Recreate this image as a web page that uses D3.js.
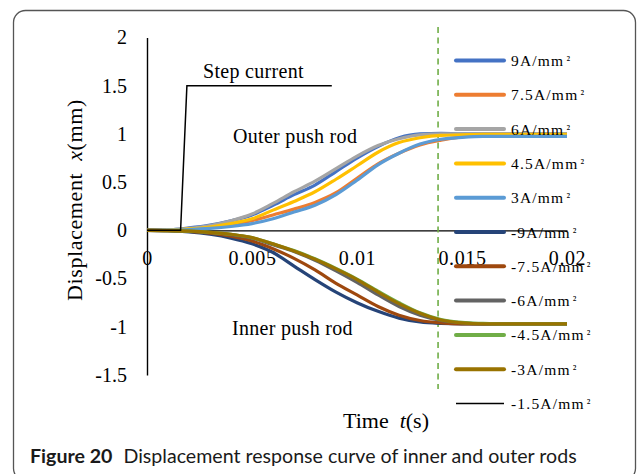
<!DOCTYPE html>
<html>
<head>
<meta charset="utf-8">
<script src="https://cdn.jsdelivr.net/npm/d3@7"></script>
<style>
  html, body { margin: 0; padding: 0; background: #fff; }
  svg { display: block; }
</style>
</head>
<body>
<svg id="chart" width="637" height="474"></svg>
<script>
// Sampling instants (s)
const time = [0, 0.001, 0.002, 0.003, 0.004, 0.005, 0.006, 0.007, 0.008, 0.009, 0.010,
              0.011, 0.012, 0.013, 0.014, 0.015, 0.016, 0.017, 0.018, 0.019, 0.020];

// Outer push rod displacement (mm)
const outer9  = [0, 0.004, 0.025, 0.055, 0.10, 0.16, 0.26, 0.37, 0.47, 0.61, 0.75, 0.87, 0.96, 1.0, 1.005, 1.0, 1.0, 1.0, 1.0, 1.0, 1.0];
const outer75 = [0, 0.002, 0.01, 0.03, 0.06, 0.10, 0.16, 0.22, 0.29, 0.39, 0.54, 0.69, 0.80, 0.885, 0.935, 0.97, 0.985, 0.99, 0.99, 0.99, 0.99];
const outer6  = [0, 0.003, 0.02, 0.05, 0.10, 0.17, 0.28, 0.40, 0.51, 0.64, 0.77, 0.88, 0.95, 0.99, 1.0, 1.0, 1.0, 1.0, 1.0, 1.0, 1.0];
const outer45 = [0, 0.003, 0.015, 0.035, 0.07, 0.12, 0.21, 0.30, 0.40, 0.53, 0.67, 0.81, 0.91, 0.96, 0.985, 0.99, 0.995, 0.995, 0.995, 0.995, 0.995];
const outer3  = [0, 0.002, 0.008, 0.02, 0.04, 0.07, 0.12, 0.19, 0.26, 0.37, 0.52, 0.68, 0.80, 0.895, 0.945, 0.965, 0.975, 0.975, 0.975, 0.975, 0.975];

// Inner push rod displacement (mm)
const inner9  = [0, -0.003, -0.015, -0.04, -0.08, -0.14, -0.23, -0.37, -0.51, -0.64, -0.75, -0.84, -0.91, -0.95, -0.965, -0.97, -0.97, -0.97, -0.97, -0.97, -0.97];
const inner75 = [0, -0.003, -0.012, -0.03, -0.06, -0.11, -0.19, -0.29, -0.41, -0.55, -0.67, -0.79, -0.88, -0.935, -0.96, -0.97, -0.97, -0.97, -0.97, -0.97, -0.97];
const inner6  = [0, -0.002, -0.009, -0.022, -0.045, -0.08, -0.15, -0.22, -0.31, -0.42, -0.54, -0.67, -0.79, -0.88, -0.935, -0.96, -0.97, -0.97, -0.97, -0.97, -0.97];
const inner45 = [0, -0.002, -0.008, -0.02, -0.04, -0.075, -0.14, -0.21, -0.295, -0.395, -0.505, -0.63, -0.75, -0.855, -0.925, -0.955, -0.965, -0.97, -0.97, -0.97, -0.97];
const inner3  = [0, -0.002, -0.008, -0.02, -0.04, -0.075, -0.14, -0.215, -0.30, -0.40, -0.51, -0.64, -0.76, -0.86, -0.93, -0.96, -0.97, -0.97, -0.97, -0.97, -0.97];

// Step current trace
const stepTime  = [0, 0.0016, 0.0019, 0.0088];
const stepValue = [0, 0, 1.5, 1.5];

// Legend labels and colours, in drawing order
const seriesLabels = ["9A/mm²", "7.5A/mm²", "6A/mm²", "4.5A/mm²", "3A/mm²",
                      "-9A/mm²", "-7.5A/mm²", "-6A/mm²", "-4.5A/mm²", "-3A/mm²", "-1.5A/mm²"];
const seriesColors = ["#4472C4", "#ED7D31", "#A5A5A5", "#FFC000", "#5B9BD5",
                      "#264478", "#9E480E", "#636363", "#70AD47", "#997300", "#000000"];

const xTicks = [0, 0.005, 0.01, 0.015, 0.02];
const yTicks = [2, 1.5, 1, 0.5, 0, -0.5, -1, -1.5];
const markerTime = 0.01386;

const svg = d3.select("#chart");
const serif = "'Liberation Serif', 'Times New Roman', serif";

// Outer frame
svg.append("rect")
  .attr("x", 13.5).attr("y", 10.5)
  .attr("width", 622).attr("height", 470)
  .attr("rx", 12).attr("ry", 12)
  .attr("fill", "none").attr("stroke", "#555").attr("stroke-width", 1.3);

const x = d3.scaleLinear().domain([0, 0.02]).range([147, 567]);
const y = d3.scaleLinear().domain([-1.5, 2]).range([375, 37.5]);

// Y axis
const yAxis = svg.append("g")
  .attr("transform", `translate(${x(0)},0)`)
  .call(d3.axisLeft(y).tickValues(yTicks).tickSize(0).tickSizeOuter(0).tickPadding(20)
        .tickFormat(d => String(d)));
yAxis.select(".domain").attr("stroke", "#000").attr("stroke-width", 1.4);
yAxis.selectAll("text").attr("font-family", serif).attr("font-size", 20).attr("fill", "#000");

// X axis through zero
const xAxis = svg.append("g")
  .attr("transform", `translate(0,${y(0)})`)
  .call(d3.axisBottom(x).tickValues(xTicks).tickSize(0).tickSizeOuter(0).tickPadding(20.5)
        .tickFormat(d => String(d)));
xAxis.select(".domain").attr("stroke", "#000").attr("stroke-width", 1.4);
xAxis.selectAll("text").attr("font-family", serif).attr("font-size", 20).attr("fill", "#000")
  .attr("letter-spacing", 0.6);

// Marker line for settling time
svg.append("line")
  .attr("x1", x(markerTime)).attr("x2", x(markerTime))
  .attr("y1", 27).attr("y2", 389)
  .attr("stroke", "#70AD47").attr("stroke-width", 1.6)
  .attr("stroke-dasharray", "6,4.5");

// Response curves
const curves = [outer9, outer75, outer6, outer45, outer3, inner9, inner75, inner6, inner45, inner3];
const line = d3.line()
  .x(d => x(d[0])).y(d => y(d[1]))
  .curve(d3.curveMonotoneX);

curves.forEach((vals, i) => {
  svg.append("path")
    .datum(time.map((t, k) => [t, vals[k]]))
    .attr("d", line)
    .attr("fill", "none")
    .attr("stroke", seriesColors[i])
    .attr("stroke-width", 3.2)
    .attr("stroke-linejoin", "round");
});

// Step current
svg.append("path")
  .datum(stepTime.map((t, k) => [t, stepValue[k]]))
  .attr("d", d3.line().x(d => x(d[0])).y(d => y(d[1])))
  .attr("fill", "none").attr("stroke", "#000").attr("stroke-width", 1.5);

// Annotations
const notes = [
  { text: "Step current", x: 203, y: 78 },
  { text: "Outer push rod", x: 233, y: 143 },
  { text: "Inner push rod", x: 232, y: 335 }
];
svg.selectAll("text.note").data(notes).enter().append("text")
  .attr("class", "note")
  .attr("x", d => d.x).attr("y", d => d.y)
  .attr("font-family", serif).attr("font-size", 20)
  .attr("letter-spacing", 0.3)
  .text(d => d.text);

// Axis titles
const xTitle = svg.append("text")
  .attr("x", 386).attr("y", 428)
  .attr("text-anchor", "middle")
  .attr("font-family", serif).attr("font-size", 22);
xTitle.append("tspan").text("Time");
xTitle.append("tspan").attr("dx", 11).attr("font-style", "italic").text("t");
xTitle.append("tspan").text("(s)");

const yTitle = svg.append("text")
  .attr("transform", "translate(82,200) rotate(-90)")
  .attr("text-anchor", "middle")
  .attr("font-family", serif).attr("font-size", 22)
  .attr("letter-spacing", 0.6);
yTitle.append("tspan").text("Displacement");
yTitle.append("tspan").attr("dx", 12).attr("font-style", "italic").text("x");
yTitle.append("tspan").text("(mm)");

// Legend
const legend = svg.append("g");
seriesLabels.forEach((lab, i) => {
  const cy = 60.5 + i * 34.3;
  const last = i === seriesLabels.length - 1;
  legend.append("line")
    .attr("x1", 456).attr("x2", 504)
    .attr("y1", cy).attr("y2", cy)
    .attr("stroke", seriesColors[i])
    .attr("stroke-width", last ? 1.5 : 4)
    .attr("stroke-linecap", last ? "butt" : "round");
  const t = legend.append("text")
    .attr("x", 511).attr("y", cy + 5.5)
    .attr("font-family", serif).attr("font-size", 15.5)
    .attr("letter-spacing", 1.2);
  t.append("tspan").text(lab.replace("²", ""));
  t.append("tspan").attr("dx", 2).attr("font-size", 12).attr("dy", -2).text("²");
});

// Caption
const cap = svg.append("text")
  .attr("x", 30).attr("y", 463)
  .attr("font-family", "Lato, 'Open Sans', sans-serif").attr("font-size", 19.6)
  .attr("fill", "#1a1a1a");
cap.append("tspan").attr("font-weight", "bold").text("Figure 20");
cap.append("tspan").attr("dx", 11).text("Displacement response curve of inner and outer rods");
</script>
</body>
</html>
